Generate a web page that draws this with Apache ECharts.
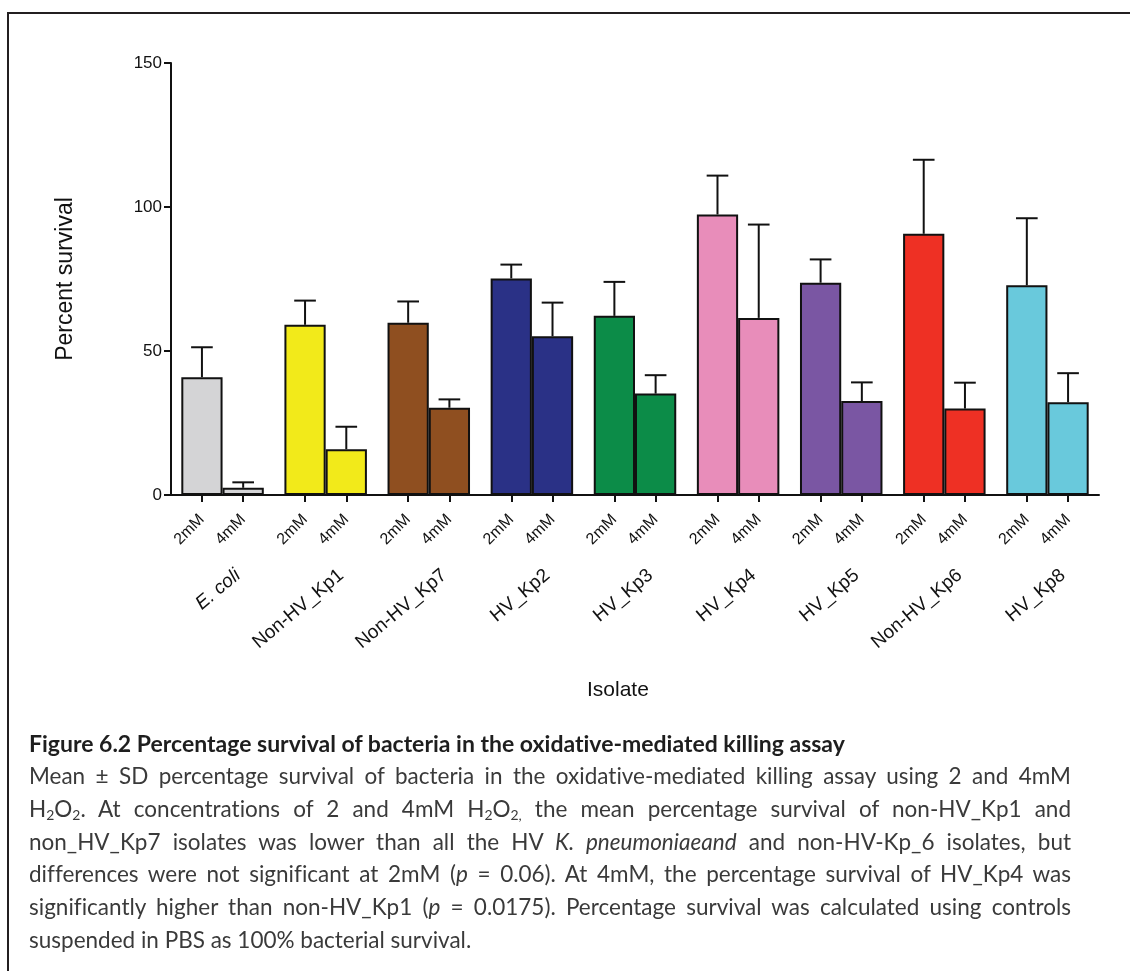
<!DOCTYPE html>
<html>
<head>
<meta charset="utf-8">
<script src="https://cdn.jsdelivr.net/npm/echarts@6/dist/echarts.min.js"></script>
<style>
  html, body { margin:0; padding:0; background:#fff; }
  #page { position:relative; width:1130px; height:971px; overflow:hidden; background:#fff; }
  #chart { position:absolute; left:0; top:0; width:1130px; height:720px; }
  #frame { position:absolute; left:7px; top:12px; width:1300px; height:1200px; border:2px solid #231f20; pointer-events:none; }
  #caption { position:absolute; left:29px; top:727px; width:1042px; font-family:Lato, "Open Sans", sans-serif; color:#3a3a3a; font-variant-ligatures:none; font-feature-settings:"liga" 0, "clig" 0; }
  #caption .head { font-size:23px; font-weight:bold; color:#1e1e1e; line-height:33px; white-space:nowrap; }
  #caption .j { font-size:22.5px; line-height:32.8px; text-align:justify; text-align-last:justify; white-space:nowrap; }
  #caption .last { font-size:22.5px; line-height:32.8px; text-align:left; white-space:nowrap; }
  #caption sub { font-size:0.62em; vertical-align:-0.25em; line-height:0; }
</style>
</head>
<body>
<div id="page">
  <div id="chart"></div>
  <div id="frame"></div>
  <div id="caption">
    <div class="head">Figure 6.2 Percentage survival of bacteria in the oxidative-mediated killing assay</div>
    <div class="j">Mean ± SD percentage survival of bacteria in the oxidative-mediated killing assay using 2 and 4mM</div>
    <div class="j">H<sub>2</sub>O<sub>2</sub>. At concentrations of 2 and 4mM H<sub>2</sub>O<sub>2,</sub> the mean percentage survival of non-HV_Kp1 and</div>
    <div class="j">non_HV_Kp7 isolates was lower than all the HV <i>K. pneumoniaeand</i> and non-HV-Kp_6 isolates, but</div>
    <div class="j">differences were not significant at 2mM (<i>p</i> = 0.06). At 4mM, the percentage survival of HV_Kp4 was</div>
    <div class="j">significantly higher than non-HV_Kp1 (<i>p</i> = 0.0175). Percentage survival was calculated using controls</div>
    <div class="last">suspended in PBS as 100% bacterial survival.</div>
  </div>
</div>
<script>
// ---- data ----
const groups = ['E. coli', 'Non-HV_Kp1', 'Non-HV_Kp7', 'HV_Kp2', 'HV_Kp3', 'HV_Kp4', 'HV_Kp5', 'Non-HV_Kp6', 'HV_Kp8'];
const concentrations = ['2mM', '4mM'];
const mean2mM = [40.9, 59.1, 59.8, 75.2, 62.2, 97.4, 73.7, 90.7, 72.8];
const sd2mM   = [10.4, 8.4, 7.4, 4.8, 11.8, 13.5, 8.1, 25.7, 23.3];
const mean4mM = [2.5, 15.9, 30.3, 55.1, 35.2, 61.5, 32.6, 30.0, 32.2];
const sd4mM   = [1.9, 7.8, 2.9, 11.7, 6.4, 32.4, 6.5, 9.0, 10.1];
const yMin = 0, yMax = 150, yStep = 50;
const yTitle = 'Percent survival';
const xTitle = 'Isolate';

// ---- styles ----
const groupColors = ['#d4d4d6', '#f2ea1a', '#8f4f20', '#2a3186', '#0c8c48', '#e88dba', '#7a56a3', '#ee3024', '#69c9dc'];
const INK = '#111';
const FONT = '"Liberation Sans", Arial, Helvetica, sans-serif';

// fine sub-axes (positions along each group) built from the data arrays
const SUB = 10;                // 10 steps per group -> bar centres at 3 and 7
const tickCats = [];
for (let k = 0; k <= groups.length * SUB; k++) {
  const m = k % SUB;
  tickCats.push(m === 3 ? concentrations[0] : (m === 7 ? concentrations[1] : ''));
}
const isTick = (idx) => (idx % SUB === 3 || idx % SUB === 7);
const NSUB = 20;               // finer steps for group names
const nameCats = [];
for (let k = 0; k <= groups.length * NSUB; k++) {
  nameCats.push(k % NSUB === 13 ? groups[Math.floor(k / NSUB)] : '');
}
const isName = (idx) => idx % NSUB === 13;

function errorSeries(name, means, sds, side) {
  return {
    type: 'custom', name: name + ' SD', xAxisIndex: 0, yAxisIndex: 0, z: 5,
    data: means.map((m, i) => [i, m, m + sds[i]]),
    encode: { x: 0, y: [1, 2] },
    renderItem(params, api) {
      const i = api.value(0);
      const base = api.coord([i, api.value(1)]);
      const top = api.coord([i, api.value(2)]);
      const catW = api.size([1, 0])[0];
      const x = base[0] + side * catW * 0.2;
      const half = catW * 0.105;
      return {
        type: 'group',
        children: [
          { type: 'line', shape: { x1: x, y1: base[1], x2: x, y2: top[1] }, style: { stroke: INK, lineWidth: 2 } },
          { type: 'line', shape: { x1: x - half, y1: top[1], x2: x + half, y2: top[1] }, style: { stroke: INK, lineWidth: 2 } }
        ]
      };
    }
  };
}

function barSeries(name, means) {
  return {
    type: 'bar', name: name, xAxisIndex: 0, yAxisIndex: 0,
    barGap: '0%', barCategoryGap: '20%',
    itemStyle: { borderColor: INK, borderWidth: 2 },
    data: means.map((v, i) => ({ value: v, itemStyle: { color: groupColors[i] } }))
  };
}

const chart = echarts.init(document.getElementById('chart'), null, { renderer: 'canvas' });
chart.setOption({
  animation: false,
  backgroundColor: 'transparent',
  textStyle: { fontFamily: FONT },
  title: {
    text: xTitle, left: 587, top: 680, padding: 0,
    textStyle: { fontFamily: FONT, fontSize: 21, fontWeight: 'normal', color: INK }
  },
  grid: { left: 171, top: 63, width: 928, height: 432, containLabel: false },
  xAxis: [
    {
      type: 'category', data: groups, position: 'bottom',
      axisLine: { show: true, lineStyle: { color: INK, width: 2 } },
      axisTick: { show: false }, axisLabel: { show: false }, splitLine: { show: false }
    },
    {
      type: 'category', data: tickCats, boundaryGap: false, position: 'bottom',
      axisLine: { show: false },
      axisTick: { show: true, interval: isTick, length: 7, lineStyle: { color: INK, width: 2 } },
      axisLabel: { show: true, interval: isTick, rotate: 45, margin: 22, fontSize: 16, color: INK, fontFamily: FONT },
      splitLine: { show: false }
    },
    {
      type: 'category', data: nameCats, boundaryGap: false, position: 'bottom',
      axisLine: { show: false }, axisTick: { show: false },
      axisLabel: {
        show: true, interval: isName, rotate: 40, margin: 78, fontSize: 19, color: INK, fontFamily: FONT,
        formatter: (v) => v === groups[0] ? '{i|' + v + '}' : v,
        rich: { i: { fontStyle: 'italic', fontSize: 19, color: INK, fontFamily: FONT } }
      },
      splitLine: { show: false }
    }
  ],
  yAxis: {
    type: 'value', min: yMin, max: yMax, interval: yStep,
    name: yTitle, nameLocation: 'middle', nameRotate: 90, nameGap: 94,
    nameTextStyle: { fontSize: 23, color: INK, fontFamily: FONT },
    axisLine: { show: true, lineStyle: { color: INK, width: 2 } },
    axisTick: { show: true, length: 7, lineStyle: { color: INK, width: 2 } },
    axisLabel: { fontSize: 17, color: INK, margin: 9, fontFamily: FONT },
    splitLine: { show: false }
  },
  series: [
    barSeries(concentrations[0], mean2mM),
    barSeries(concentrations[1], mean4mM),
    errorSeries(concentrations[0], mean2mM, sd2mM, -1),
    errorSeries(concentrations[1], mean4mM, sd4mM, 1)
  ]
});
</script>
</body>
</html>
